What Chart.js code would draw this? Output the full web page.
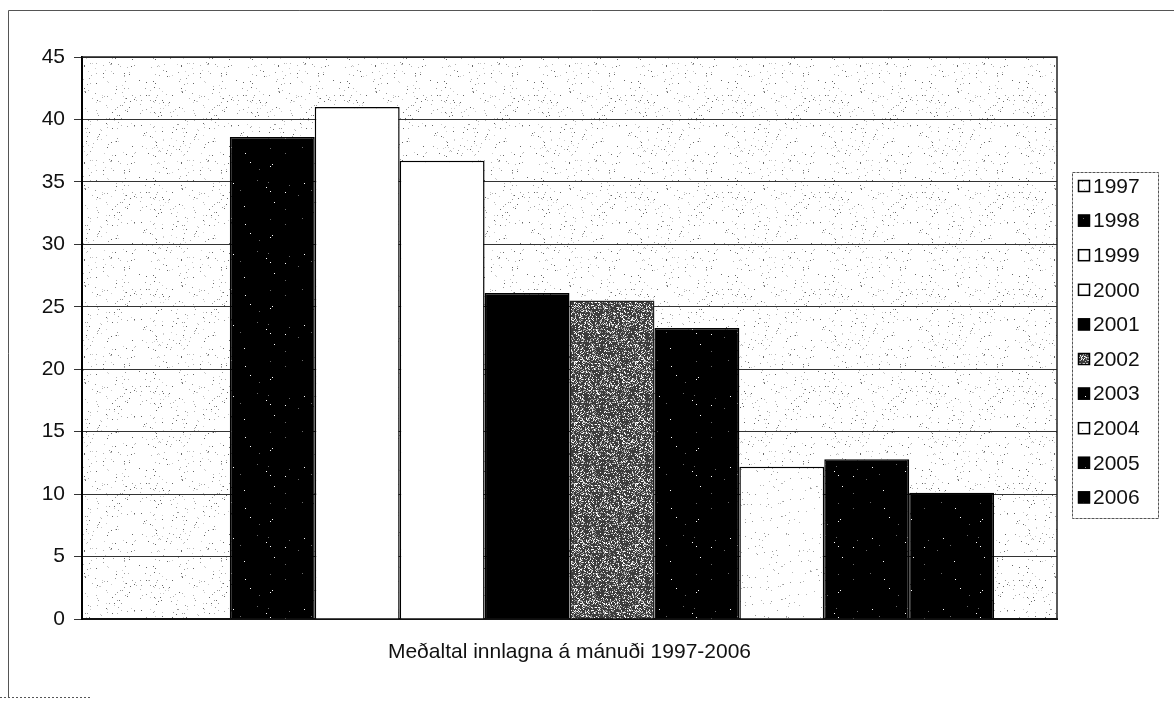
<!DOCTYPE html>
<html>
<head>
<meta charset="utf-8">
<script src="https://cdn.jsdelivr.net/npm/chart.js@4"></script>
<style>
  html, body { margin: 0; padding: 0; background: #fff; }
  #wrap { width: 1174px; height: 701px; position: relative; }
</style>
</head>
<body>
<div id="wrap"><canvas id="chart" width="1174" height="701"></canvas></div>
<script>
// Gögn lesin af myndinni
const categories = [''];
const years  = ['1997', '1998', '1999', '2000', '2001', '2002', '2003', '2004', '2005', '2006'];
const values = [null, 38.6, 41.0, 36.7, 26.1, 25.5, 23.3, 12.2, 12.8, 10.1];
const yTicks = [0, 5, 10, 15, 20, 25, 30, 35, 40, 45];
const xTitle = 'Meðaltal innlagna á mánuði 1997-2006';

const FONT = '"Liberation Sans", Arial, sans-serif';

// fast "random" for stipple patterns (style only, not data)
function lcg(seed) {
  let s = seed;
  return () => { s = (s * 1103515245 + 12345) % 2147483648; return s / 2147483648; };
}

function stipple(base, dot, size, count, seed) {
  const c = document.createElement('canvas');
  c.width = size; c.height = size;
  const g = c.getContext('2d');
  g.fillStyle = base;
  g.fillRect(0, 0, size, size);
  const r = lcg(seed);
  for (let i = 0; i < count; i++) {
    g.fillStyle = Array.isArray(dot) ? dot[i % dot.length] : dot;
    g.fillRect(Math.floor(r() * size), Math.floor(r() * size), 1, 1);
  }
  return g.createPattern(c, 'repeat');
}

const ctx = document.getElementById('chart').getContext('2d');
const bgPattern   = stipple('#ffffff', ['#b4b4b4', '#9a9a9a', '#cccccc', '#666'], 97, 260, 7);
const greyPattern = stipple('#3c3c3c', ['#ffffff', '#bdbdbd', '#8c8c8c'], 61, 1500, 3);
const darkPattern = stipple('#000000', ['#6a6a6a', '#ffffff'], 71, 20, 11);
const lightBar    = stipple('#ffffff', ['#b8b8b8', '#9a9a9a'], 83, 110, 5);

const fills = [lightBar, darkPattern, '#ffffff', '#ffffff', '#000000', greyPattern, darkPattern, lightBar, darkPattern, darkPattern];
const edges = ['#000', '#000', '#000', '#000', '#000', '#222', '#000', '#000', '#000', '#000'];

const datasets = years.map((y, i) => ({
  label: y,
  data: [values[i]],
  backgroundColor: fills[i],
  borderColor: edges[i],
  borderWidth: 1.5,
  borderSkipped: 'bottom',
}));

const frame = {
  id: 'frame',
  beforeDraw(chart) {
    const c = chart.ctx, a = chart.chartArea;
    c.save();
    c.fillStyle = '#fff';
    c.fillRect(0, 0, chart.width, chart.height);
    c.strokeStyle = '#555';
    c.lineWidth = 1;
    c.beginPath();
    c.moveTo(8.5, 697); c.lineTo(8.5, 10.5); c.lineTo(1174, 10.5);
    c.stroke();
    c.setLineDash([2, 2]);
    c.beginPath();
    c.moveTo(0, 697.5); c.lineTo(90, 697.5);
    c.stroke();
    c.setLineDash([]);
    c.fillStyle = bgPattern;
    c.fillRect(a.left, a.top, a.right - a.left, a.bottom - a.top);
    c.restore();
  },
  afterDatasetsDraw(chart) {
    const c = chart.ctx, a = chart.chartArea;
    c.save();
    c.strokeStyle = '#222';
    c.lineWidth = 1.5;
    c.beginPath();
    c.moveTo(a.left, a.top); c.lineTo(a.right, a.top); c.lineTo(a.right, a.bottom);
    c.stroke();
    c.restore();
  },
  afterDraw(chart) {
    // legend box on the right
    const c = chart.ctx;
    const x0 = 1072, y0 = 172, w = 86, h = 346;
    c.save();
    c.fillStyle = '#fff';
    c.fillRect(x0, y0, w, h);
    c.strokeStyle = '#555';
    c.lineWidth = 1;
    c.setLineDash([3, 1]);
    c.strokeRect(x0 + 0.5, y0 + 0.5, w, h);
    c.setLineDash([]);
    c.font = '21px ' + FONT;
    c.textBaseline = 'middle';
    chart.data.datasets.forEach((ds, i) => {
      const cy = 186 + i * 34.6;
      c.fillStyle = ds.backgroundColor;
      c.fillRect(x0 + 6, cy - 6, 12, 12);
      c.strokeStyle = '#000';
      c.lineWidth = 1.5;
      c.strokeRect(x0 + 6.5, cy - 5.5, 11, 11);
      c.fillStyle = '#111';
      c.fillText(ds.label, x0 + 21, cy + 1);
    });
    c.restore();
  }
};

new Chart(ctx, {
  type: 'bar',
  data: { labels: categories, datasets },
  plugins: [frame],
  options: {
    responsive: false,
    animation: false,
    layout: { padding: { left: 40, right: 117, top: 57, bottom: 10 } },
    plugins: { legend: { display: false }, tooltip: { enabled: false } },
    datasets: { bar: { categoryPercentage: 0.871, barPercentage: 1 } },
    scales: {
      x: {
        afterFit: s => { s.height = 72; },
        ticks: { display: false },
        grid: { display: false },
        border: { display: true, color: '#111', width: 2 },
        title: {
          display: true, text: xTitle, color: '#111',
          font: { family: FONT, size: 21 },
          padding: { top: 20, bottom: 26 },
        },
      },
      y: {
        min: 0, max: 45,
        afterBuildTicks: s => { s.ticks = yTicks.map(v => ({ value: v })); },
        afterFit: s => { s.width = 42; },
        ticks: {
          color: '#111', padding: 9,
          font: { family: FONT, size: 21 },
        },
        grid: { color: '#333', lineWidth: 1, tickLength: 8 },
        border: { display: true, color: '#000', width: 2 },
      },
    },
  },
});
</script>
</body>
</html>
